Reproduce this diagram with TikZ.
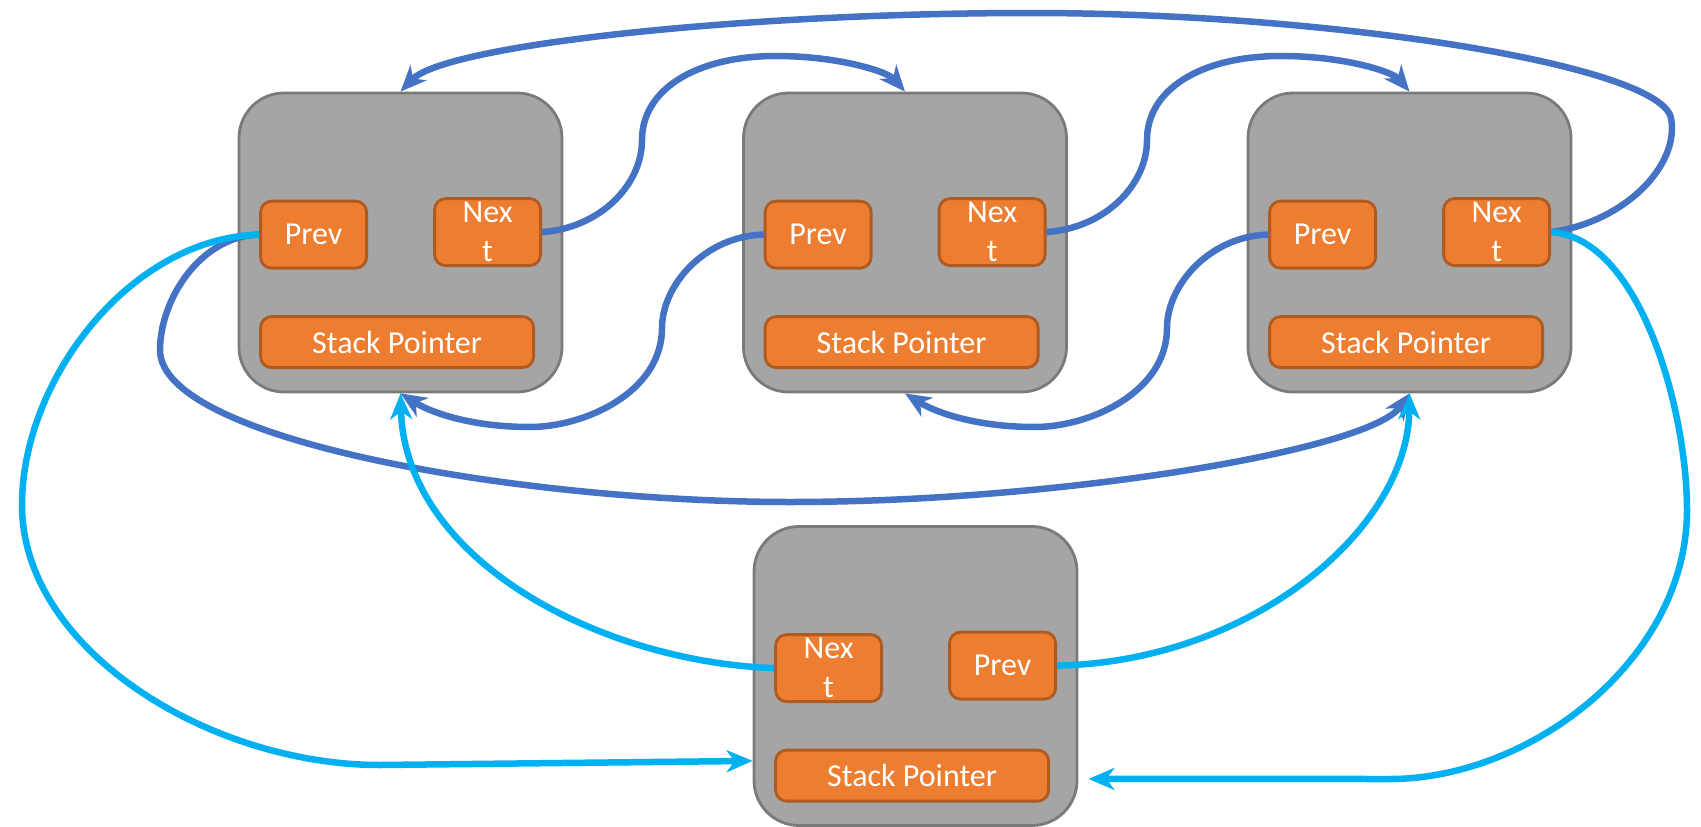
\documentclass[tikz,border=0pt]{standalone}
\usepackage{fontspec}
\setmainfont{Carlito}
\usetikzlibrary{arrows.meta,calc}

\definecolor{cellgray}{HTML}{A5A5A5}
\definecolor{celledge}{HTML}{7A7A7A}
\definecolor{fieldfill}{HTML}{ED7D31}
\definecolor{fieldedge}{HTML}{AE5A21}
\definecolor{linkdark}{HTML}{4472C4}
\definecolor{linklight}{HTML}{00B0F0}

\begin{document}
\begin{tikzpicture}[x=1pt,y=-1pt,
  cell/.style={draw=celledge, fill=cellgray, line width=2.8pt, rounded corners=45pt,
    minimum width=323pt, minimum height=299pt, inner sep=0pt},
  field/.style={draw=fieldedge, fill=fieldfill, line width=2.8pt, rounded corners=11pt,
    inner sep=0pt, minimum width=106pt, minimum height=67pt,
    text=white, font=\fontsize{32}{39}\selectfont, align=center},
  widefield/.style={field, minimum width=273pt, minimum height=51pt},
  link/.style={line width=6.5pt, -{Stealth[length=26pt,width=22pt,inset=8pt]}},
  darklink/.style={link, draw=linkdark},
  lightlink/.style={link, draw=linklight},
]
\useasboundingbox (0,0) rectangle (1701,827);

% stack frames in the top row
\node[cell] (b1) at (400.5,242.5) {};
\node[cell] (b2) at (905,242.5) {};
\node[cell] (b3) at (1409.5,242.5) {};
% frame being inserted below
\node[cell] (b4) at (915.5,676) {};

\node[field] (p1) at ($(b1.north west)+(76,143)$) {Prev};
\node[field] (n1) at ($(b1.north west)+(250,140.5)$) {Nex\\t};
\node[widefield] (s1) at ($(b1.north west)+(159.5,250.5)$) {Stack Pointer};

\node[field] (p2) at ($(b2.north west)+(76,143)$) {Prev};
\node[field] (n2) at ($(b2.north west)+(250,140.5)$) {Nex\\t};
\node[widefield] (s2) at ($(b2.north west)+(159.5,250.5)$) {Stack Pointer};

\node[field] (p3) at ($(b3.north west)+(76,143)$) {Prev};
\node[field] (n3) at ($(b3.north west)+(250,140.5)$) {Nex\\t};
\node[widefield] (s3) at ($(b3.north west)+(159.5,250.5)$) {Stack Pointer};

\node[field] (n4) at ($(b4.north west)+(76,143)$) {Nex\\t};
\node[field] (p4) at ($(b4.north west)+(250,140.5)$) {Prev};
\node[widefield] (s4) at ($(b4.north west)+(159.5,250.5)$) {Stack Pointer};

% existing next / prev links
\draw[darklink] (n1.east) .. controls (600,228) and (642,185) .. (642,140)
  .. controls (642,90) and (695,56) .. (776,56)
  .. controls (840,56) and (888,72) .. (b2.north);
\draw[darklink] (n2.east) .. controls (1105,228) and (1147,185) .. (1147,140)
  .. controls (1147,90) and (1200,56) .. (1281,56)
  .. controls (1345,56) and (1393,72) .. (b3.north);
\draw[darklink] (n3.east) .. controls (1625,222) and (1680,165) .. (1671,118)
  .. controls (1660,65) and (1330,13) .. (1031,13)
  .. controls (740,13) and (445,45) .. (b1.north);
\draw[darklink] (p2.west) .. controls (705,236) and (662,285) .. (662,328)
  .. controls (662,392) and (585,427) .. (530,427)
  .. controls (470,427) and (430,412) .. (b1.south);
\draw[darklink] (p3.west) .. controls (1210,236) and (1167,285) .. (1167,328)
  .. controls (1167,392) and (1090,427) .. (1035,427)
  .. controls (975,427) and (935,412) .. (b2.south);
\draw[darklink] (p1.west) .. controls (200,236) and (160,300) .. (160,350)
  .. controls (160,440) and (520,502) .. (790,502)
  .. controls (1060,502) and (1370,450) .. (b3.south);

% links of the inserted frame
\draw[lightlink] (p1.west) .. controls (130,238) and (22,380) .. (22,505)
  .. controls (22,650) and (210,765) .. (380,765)
  -- ([yshift=66pt]b4.south west);
\draw[lightlink] (n3.east) .. controls (1640,238) and (1687,410) .. (1687,510)
  .. controls (1687,660) and (1530,779) .. (1390,779)
  -- ([xshift=10pt,yshift=48pt]b4.south east);
\draw[lightlink] (n4.west) .. controls (600,662) and (405,560) .. (b1.south);
\draw[lightlink] (p4.east) .. controls (1250,662) and (1408,530) .. (b3.south);
\end{tikzpicture}
\end{document}
